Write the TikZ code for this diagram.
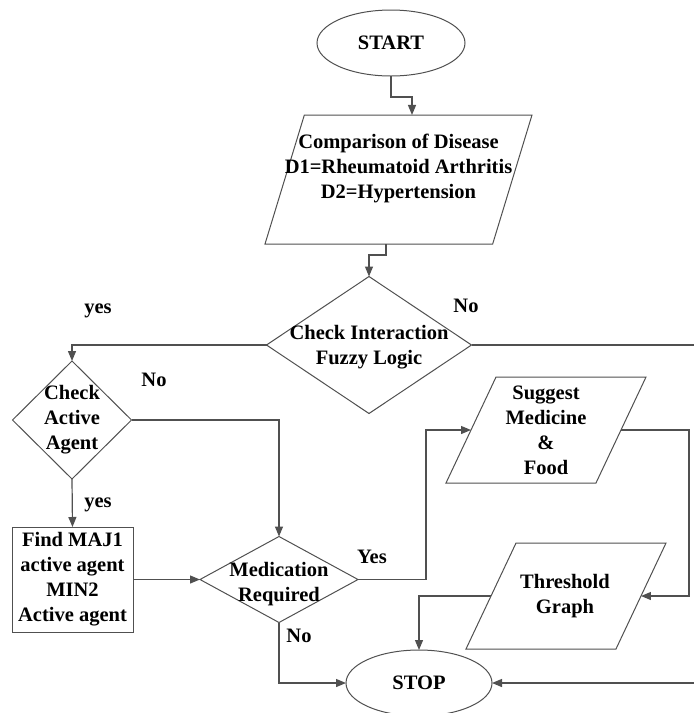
\documentclass[tikz,border=0pt]{standalone}
\usepackage{fontspec}
\setmainfont{Liberation Serif}
\usetikzlibrary{shapes.geometric,arrows.meta}
\definecolor{linegray}{RGB}{80,80,80}

\begin{document}
\begin{tikzpicture}[x=1pt,y=-1pt,
  line/.style={draw=linegray, line width=1.2pt},
  arr/.style={line, -{Triangle[length=10pt,width=8pt]}},
  outline/.style={draw=linegray, line width=1pt, inner sep=0pt, outer sep=0pt},
  terminal/.style={outline, ellipse},
  decision/.style={outline, diamond},
  process/.style={outline, rectangle},
  io/.style={outline, trapezium, trapezium stretches=true, inner sep=2pt},
  txt/.style={font=\bfseries\fontsize{20.5}{25}\selectfont, align=center, inner sep=0pt},
  lbl/.style={font=\bfseries\fontsize{20.5}{25}\selectfont, inner sep=0pt, anchor=base},
]
\useasboundingbox (0,0) rectangle (694,713);
\clip (0,0) rectangle (694,713);

% shapes
\node[terminal, minimum width=148pt, minimum height=66pt] (start) at (391,43) {};
\node[io, trapezium left angle=78.2, trapezium right angle=101.8,
      minimum width=267pt, minimum height=129pt] (cmp) at (398.5,179.5) {};
\node[decision, minimum width=205pt, minimum height=137pt] (chk) at (369,345) {};
\node[decision, minimum width=119pt, minimum height=118pt] (agent) at (72,420) {};
\node[process, minimum width=121pt, minimum height=105pt] (find) at (72.5,579.5) {};
\node[decision, minimum width=158pt, minimum height=86pt] (med) at (279,579.5) {};
\node[io, trapezium left angle=63.4, trapezium right angle=116.6,
      minimum width=200pt, minimum height=106pt] (sug) at (546,430) {};
\node[io, trapezium left angle=63.4, trapezium right angle=116.6,
      minimum width=200pt, minimum height=106pt] (thr) at (566,596) {};
\node[terminal, minimum width=146pt, minimum height=66pt] (stop) at (419,683) {};

% texts
\node[txt] (startT) at (start.center) {START};
\node[txt] (cmpT) at ([yshift=11pt]cmp.center) {Comparison of Disease\\D1=Rheumatoid Arthritis\\D2=Hypertension};
\node[txt] (chkT) at ([yshift=-2pt]chk.center) {Check Interaction\\Fuzzy Logic};
\node[txt] (agentT) at (agent.center) {Check\\Active\\Agent};
\node[txt] (findT) at (find.center) {Find MAJ1\\active agent\\MIN2\\Active agent};
\node[txt] (medT) at ([yshift=-5pt]med.center) {Medication\\Required};
\node[txt] (sugT) at (sug.center) {Suggest\\Medicine\\\&\\Food};
\node[txt] (thrT) at ([xshift=-1pt]thr.center) {Threshold\\Graph};
\node[txt] (stopT) at (stop.center) {STOP};

% free ends at the right rim
\coordinate (rimNo) at (694,345);
\coordinate (rimStop) at (694,683);

% connectors
\draw[arr] (start.south) -- ++(0,21) -| ([xshift=13.5pt]cmp.north);
\draw[arr] ([xshift=-12.5pt]cmp.south) -- ++(0,11) -| (chk.north);
\draw[arr] (chk.west) -| (agent.north);
\draw[line] (chk.east) -- (rimNo);
\draw[arr] (agent.east) -| (med.north);
\draw[arr] (agent.south) -- (find.north);
\draw[arr] (find.east) -- (med.west);
\draw[arr] (med.east) -- ++(68,0) |- (sug.west);
\draw[arr] (sug.east) -- ++(68,0) |- (thr.east);
\draw[arr] (thr.west) -| (stop.north);
\draw[arr] (med.south) |- (stop.west);
\draw[arr] (rimStop) -- (stop.east);

% branch labels
\node[lbl] (yesL) at (98,313) {yes};
\node[lbl] (noR) at (466,312) {No};
\node[lbl] (noA) at (154,386) {No};
\node[lbl] (yesA) at (98,507) {yes};
\node[lbl] (yesM) at (372,563) {Yes};
\node[lbl] (noM) at (299,642) {No};
\end{tikzpicture}
\end{document}
